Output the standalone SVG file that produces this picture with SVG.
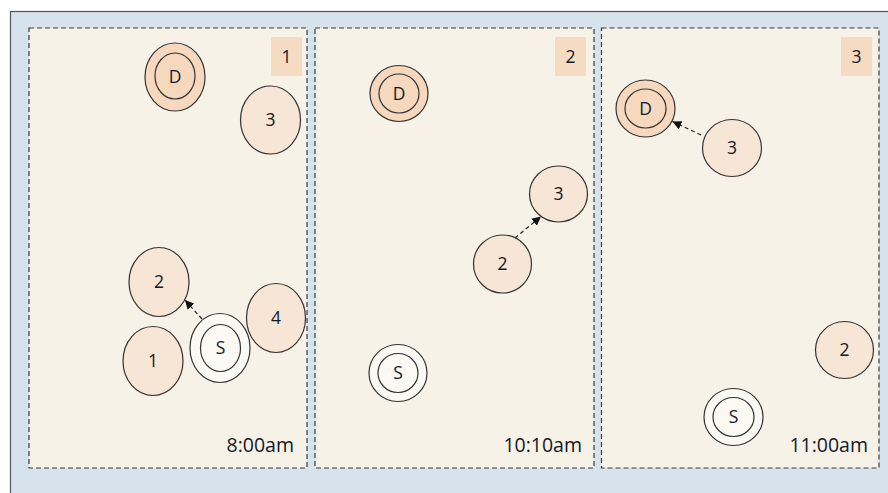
<svg xmlns="http://www.w3.org/2000/svg" width="888" height="493" viewBox="0 0 888 493">
<style>
.panel{fill:#f7f2e8;stroke:#3a3a3a;stroke-width:1.2;stroke-dasharray:5 3}
.badge{fill:#f5dbc1}
.dst{fill:#f5d8bd;stroke:#333;stroke-width:1.2}
.src{fill:#fbf9f4;stroke:#333;stroke-width:1.2}
.node{fill:#f7e5d5;stroke:#333;stroke-width:1.2}
.lbl{font-family:"Open Sans","Noto Sans",sans-serif;font-size:17.5px;fill:#141828;text-anchor:middle}
.time{font-family:"Open Sans","Noto Sans",sans-serif;font-size:19.5px;fill:#141828;text-anchor:end}
.conn{stroke:#222;stroke-width:1.2;stroke-dasharray:4 3;fill:none}
</style>
<defs>
<marker id="ah" viewBox="0 0 10 10" refX="10" refY="5" markerWidth="9" markerHeight="9" markerUnits="userSpaceOnUse" orient="auto">
<path d="M0,0 L10,5 L0,10 z" fill="#111"/>
</marker>
</defs>
<rect x="10.5" y="11.5" width="890" height="490" fill="#d6e3ec" stroke="#555" stroke-width="1.2"/>
<rect class="panel" x="29" y="28" width="278" height="440"/>
<rect class="panel" x="315" y="28" width="279" height="440"/>
<rect class="panel" x="601.5" y="28" width="277.5" height="440"/>

<g id="panel1">
<g id="p1-badge"><rect class="badge" x="271" y="37" width="31" height="39"/><text class="lbl" x="286.5" y="62.5">1</text></g>
<g id="p1-D"><ellipse class="dst" cx="175" cy="77" rx="30" ry="34"/><ellipse class="dst" cx="175" cy="76" rx="20" ry="23"/><text class="lbl" x="175" y="82.5">D</text></g>
<g id="p1-n3"><ellipse class="node" cx="270.5" cy="120" rx="30" ry="34"/><text class="lbl" x="270.5" y="126">3</text></g>
<g id="p1-n2"><ellipse class="node" cx="159" cy="282" rx="30" ry="34.5"/><text class="lbl" x="159" y="288">2</text></g>
<g id="p1-n1"><ellipse class="node" cx="153" cy="361" rx="30" ry="34.5"/><text class="lbl" x="153" y="367">1</text></g>
<g id="p1-n4"><ellipse class="node" cx="276" cy="318" rx="29.5" ry="34.5"/><text class="lbl" x="276" y="324">4</text></g>
<g id="p1-S"><ellipse class="src" cx="220" cy="348" rx="30" ry="34.5"/><ellipse class="src" cx="220.5" cy="348" rx="20" ry="23.5"/><text class="lbl" x="220.5" y="354">S</text></g>
<text class="time" x="294" y="452">8:00am</text>
</g>

<g id="panel2">
<g id="p2-badge"><rect class="badge" x="555" y="37" width="31" height="39"/><text class="lbl" x="570.5" y="62.5">2</text></g>
<g id="p2-D"><ellipse class="dst" cx="399" cy="93.5" rx="29" ry="28"/><ellipse class="dst" cx="399" cy="93.5" rx="20" ry="19.5"/><text class="lbl" x="399" y="99.5">D</text></g>
<g id="p2-n3"><ellipse class="node" cx="558.5" cy="194" rx="29" ry="28"/><text class="lbl" x="558.5" y="200">3</text></g>
<g id="p2-n2"><ellipse class="node" cx="502.5" cy="264" rx="29" ry="29"/><text class="lbl" x="502.5" y="270">2</text></g>
<g id="p2-S"><ellipse class="src" cx="398" cy="373" rx="29" ry="28.5"/><ellipse class="src" cx="398" cy="373" rx="20" ry="19.5"/><text class="lbl" x="398" y="379">S</text></g>
<text class="time" x="582" y="452">10:10am</text>
</g>

<g id="panel3">
<g id="p3-badge"><rect class="badge" x="841" y="37" width="31" height="39"/><text class="lbl" x="856.5" y="62.5">3</text></g>
<g id="p3-D"><ellipse class="dst" cx="645.5" cy="108.5" rx="29.5" ry="28.5"/><ellipse class="dst" cx="645.5" cy="108.5" rx="20.5" ry="19.5"/><text class="lbl" x="645.5" y="114.5">D</text></g>
<g id="p3-n3"><ellipse class="node" cx="732" cy="148" rx="29.5" ry="28.5"/><text class="lbl" x="732" y="154">3</text></g>
<g id="p3-n2"><ellipse class="node" cx="844.5" cy="350" rx="29" ry="28.5"/><text class="lbl" x="844.5" y="356">2</text></g>
<g id="p3-S"><ellipse class="src" cx="733.5" cy="417" rx="29.5" ry="28.5"/><ellipse class="src" cx="733.5" cy="417" rx="20.5" ry="19.5"/><text class="lbl" x="733.5" y="423">S</text></g>
<text class="time" x="868" y="452">11:00am</text>
</g>

<g id="connectors">
<line class="conn" x1="202" y1="319" x2="185" y2="300" marker-end="url(#ah)"/>
<line class="conn" x1="515" y1="238" x2="541" y2="216.5" marker-end="url(#ah)"/>
<line class="conn" x1="701" y1="135" x2="672.5" y2="121.5" marker-end="url(#ah)"/>
</g>
</svg>
